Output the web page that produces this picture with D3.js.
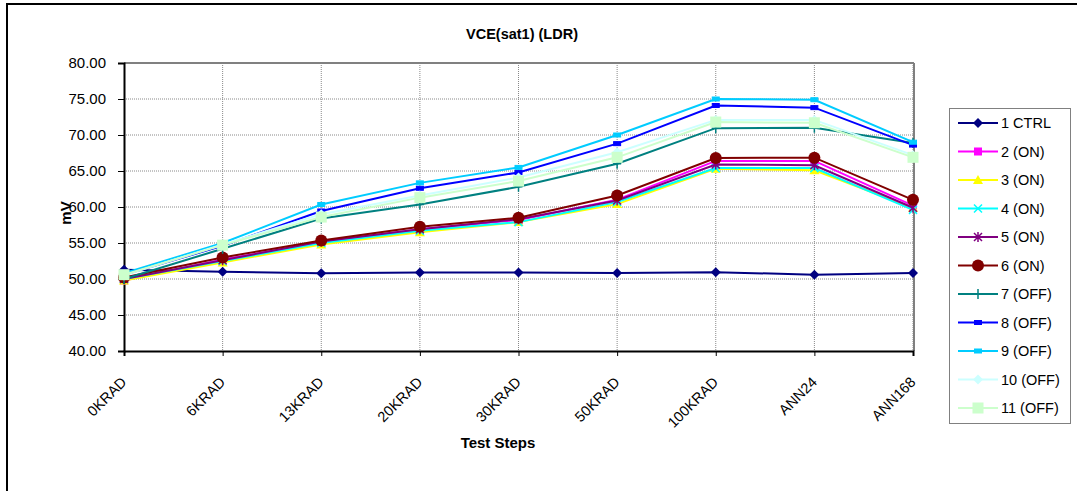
<!DOCTYPE html>
<html>
<head>
<meta charset="utf-8">
<script src="https://cdn.jsdelivr.net/npm/d3@7"></script>
<style>
  body { margin: 0; background: #fff; }
  svg { display: block; font-family: "Liberation Sans", Arial, sans-serif; }
</style>
</head>
<body>
<svg id="chart" width="1077" height="491"></svg>
<script>
// test steps on the x axis
const steps = ["0KRAD", "6KRAD", "13KRAD", "20KRAD", "30KRAD", "50KRAD", "100KRAD", "ANN24", "ANN168"];
const yTicks = [40, 45, 50, 55, 60, 65, 70, 75, 80];

// VCE(sat1) in mV per device
const ctrl1 = [51.3, 51.0, 50.8, 50.9, 50.9, 50.85, 50.95, 50.6, 50.85];
const on2 = [49.8, 52.7, 55.1, 56.9, 58.2, 61.0, 66.4, 66.4, 60.2];
const on3 = [49.8, 52.3, 54.8, 56.5, 57.9, 60.4, 65.3, 65.1, 59.9];
const on4 = [50.0, 52.5, 55.0, 56.7, 57.9, 60.7, 65.4, 65.4, 59.6];
const on5 = [50.0, 52.6, 55.2, 56.9, 58.3, 60.9, 65.9, 65.8, 59.9];
const on6 = [50.2, 53.0, 55.35, 57.25, 58.5, 61.6, 66.8, 66.85, 61.0];
const off7 = [50.0, 54.2, 58.4, 60.35, 62.8, 66.0, 70.95, 71.0, 68.9];
const off8 = [50.6, 54.6, 59.45, 62.6, 64.8, 68.8, 74.1, 73.8, 68.6];
const off9 = [50.8, 55.0, 60.35, 63.35, 65.5, 70.0, 75.0, 74.9, 69.0];
const off10 = [50.5, 54.8, 59.0, 61.6, 64.1, 67.6, 72.1, 72.1, 67.2];
const off11 = [50.6, 54.7, 58.6, 61.3, 63.6, 66.9, 71.8, 71.7, 66.9];

const series = [
  { name: "1 CTRL", values: ctrl1, color: "#000080", marker: "diamond" },
  { name: "2 (ON)", values: on2, color: "#FF00FF", marker: "square" },
  { name: "3 (ON)", values: on3, color: "#FFFF00", marker: "triangle" },
  { name: "4 (ON)", values: on4, color: "#00FFFF", marker: "x" },
  { name: "5 (ON)", values: on5, color: "#800080", marker: "star" },
  { name: "6 (ON)", values: on6, color: "#800000", marker: "circle" },
  { name: "7 (OFF)", values: off7, color: "#008080", marker: "plus" },
  { name: "8 (OFF)", values: off8, color: "#0000FF", marker: "bar" },
  { name: "9 (OFF)", values: off9, color: "#00CCFF", marker: "bar" },
  { name: "10 (OFF)", values: off10, color: "#CCFFFF", marker: "diamond" },
  { name: "11 (OFF)", values: off11, color: "#CCFFCC", marker: "bigsquare" }
];

const svg = d3.select("#chart");
const plotLeft = 124, plotRight = 913, plotTop = 63, plotBottom = 351;
const font = "Liberation Sans, Arial, sans-serif";

const x = d3.scalePoint().domain(steps).range([plotLeft, plotRight]);
const y = d3.scaleLinear().domain([40, 80]).range([plotBottom, plotTop]);

// outer chart border (right/bottom fall outside the picture)
svg.append("rect")
  .attr("x", 7).attr("y", 4).attr("width", 1200).attr("height", 700)
  .attr("fill", "none").attr("stroke", "#000").attr("stroke-width", 2);

// title
svg.append("text")
  .attr("x", 522).attr("y", 38.5)
  .attr("text-anchor", "middle")
  .attr("font-size", 14.5).attr("font-weight", "bold")
  .text("VCE(sat1) (LDR)");

// grid
const grid = svg.append("g");
grid.selectAll(".hg").data(yTicks.slice(1)).enter().append("line")
  .attr("x1", plotLeft).attr("x2", plotRight)
  .attr("y1", d => y(d)).attr("y2", d => y(d))
  .attr("stroke", "#888").attr("stroke-width", 1).attr("stroke-dasharray", "1,1");
grid.selectAll(".vg").data(steps.slice(1)).enter().append("line")
  .attr("x1", d => x(d)).attr("x2", d => x(d))
  .attr("y1", plotTop).attr("y2", plotBottom)
  .attr("stroke", "#888").attr("stroke-width", 1).attr("stroke-dasharray", "1,1");

// top and right frame
svg.append("line").attr("x1", plotLeft).attr("x2", plotRight + 1).attr("y1", plotTop).attr("y2", plotTop)
  .attr("stroke", "#808080").attr("stroke-width", 2);
svg.append("line").attr("x1", plotRight + 1).attr("x2", plotRight + 1).attr("y1", plotTop).attr("y2", plotBottom)
  .attr("stroke", "#808080").attr("stroke-width", 2);

// axes
const yAxis = d3.axisLeft(y).tickValues(yTicks).tickSize(6).tickPadding(12)
  .tickFormat(d3.format(".2f"));
const gy = svg.append("g").attr("transform", `translate(${plotLeft},0)`).call(yAxis);
gy.select(".domain").attr("stroke", "#000").attr("stroke-width", 2);
gy.selectAll(".tick line").attr("stroke", "#000");
gy.selectAll("text").attr("font-size", 15).attr("fill", "#000").attr("font-family", font);

const xAxis = d3.axisBottom(x).tickSize(5).tickPadding(4);
const gx = svg.append("g").attr("transform", `translate(0,${plotBottom})`).call(xAxis);
gx.select(".domain").attr("stroke", "#000").attr("stroke-width", 2);
gx.selectAll(".tick line").attr("stroke", "#000");
gx.selectAll("text")
  .attr("font-size", 14.5).attr("fill", "#000").attr("font-family", font)
  .attr("text-anchor", "end")
  .attr("dy", null).attr("y", 0)
  .attr("transform", "translate(3,32) rotate(-45)");

// axis titles
svg.append("text")
  .attr("x", 498).attr("y", 447.5)
  .attr("text-anchor", "middle")
  .attr("font-size", 15).attr("font-weight", "bold")
  .text("Test Steps");
svg.append("text")
  .attr("transform", "translate(71,213) rotate(-90)")
  .attr("text-anchor", "middle")
  .attr("font-size", 15).attr("font-weight", "bold")
  .text("mV");

// marker drawing
function drawMarker(g, type, color, cx, cy) {
  const s = g.append("g").attr("transform", `translate(${cx},${cy})`);
  if (type === "diamond") {
    s.append("path").attr("d", "M0,-5L5,0L0,5L-5,0Z").attr("fill", color);
  } else if (type === "square") {
    s.append("rect").attr("x", -4).attr("y", -4).attr("width", 8).attr("height", 8).attr("fill", color);
  } else if (type === "bigsquare") {
    s.append("rect").attr("x", -5.5).attr("y", -5.5).attr("width", 11).attr("height", 11).attr("fill", color);
  } else if (type === "triangle") {
    s.append("path").attr("d", "M0,-5L5,4L-5,4Z").attr("fill", color);
  } else if (type === "x") {
    s.append("path").attr("d", "M-4,-4L4,4M-4,4L4,-4").attr("stroke", color).attr("stroke-width", 1.5);
  } else if (type === "star") {
    s.append("path").attr("d", "M-4,-4L4,4M-4,4L4,-4M0,-5L0,5").attr("stroke", color).attr("stroke-width", 1.5);
  } else if (type === "circle") {
    s.append("circle").attr("r", 6).attr("fill", color);
  } else if (type === "plus") {
    s.append("path").attr("d", "M-4,0L4,0M0,-5L0,5").attr("stroke", color).attr("stroke-width", 1.5);
  } else if (type === "bar") {
    s.append("rect").attr("x", -3.5).attr("y", -2).attr("width", 7).attr("height", 4)
      .attr("fill", color).attr("stroke", color).attr("stroke-width", 1);
  }
}

const line = d3.line().x((d, i) => x(steps[i])).y(d => y(d));
const plot = svg.append("g");
series.forEach(s => {
  const g = plot.append("g");
  g.append("path").datum(s.values)
    .attr("d", line).attr("fill", "none")
    .attr("stroke", s.color).attr("stroke-width", 2);
  s.values.forEach((v, i) => drawMarker(g, s.marker, s.color, x(steps[i]), y(v)));
});

// legend
const lg = svg.append("g");
lg.append("rect")
  .attr("x", 949.5).attr("y", 108.5).attr("width", 121).attr("height", 315)
  .attr("fill", "#fff").attr("stroke", "#808080").attr("stroke-width", 1);
series.forEach((s, i) => {
  const ly = 123 + i * 28.5;
  lg.append("line").attr("x1", 958).attr("x2", 998).attr("y1", ly).attr("y2", ly)
    .attr("stroke", s.color).attr("stroke-width", 2);
  drawMarker(lg, s.marker, s.color, 978, ly);
  lg.append("text").attr("x", 1001).attr("y", ly + 5)
    .attr("font-size", 14.5).text(s.name);
});
</script>
</body>
</html>
